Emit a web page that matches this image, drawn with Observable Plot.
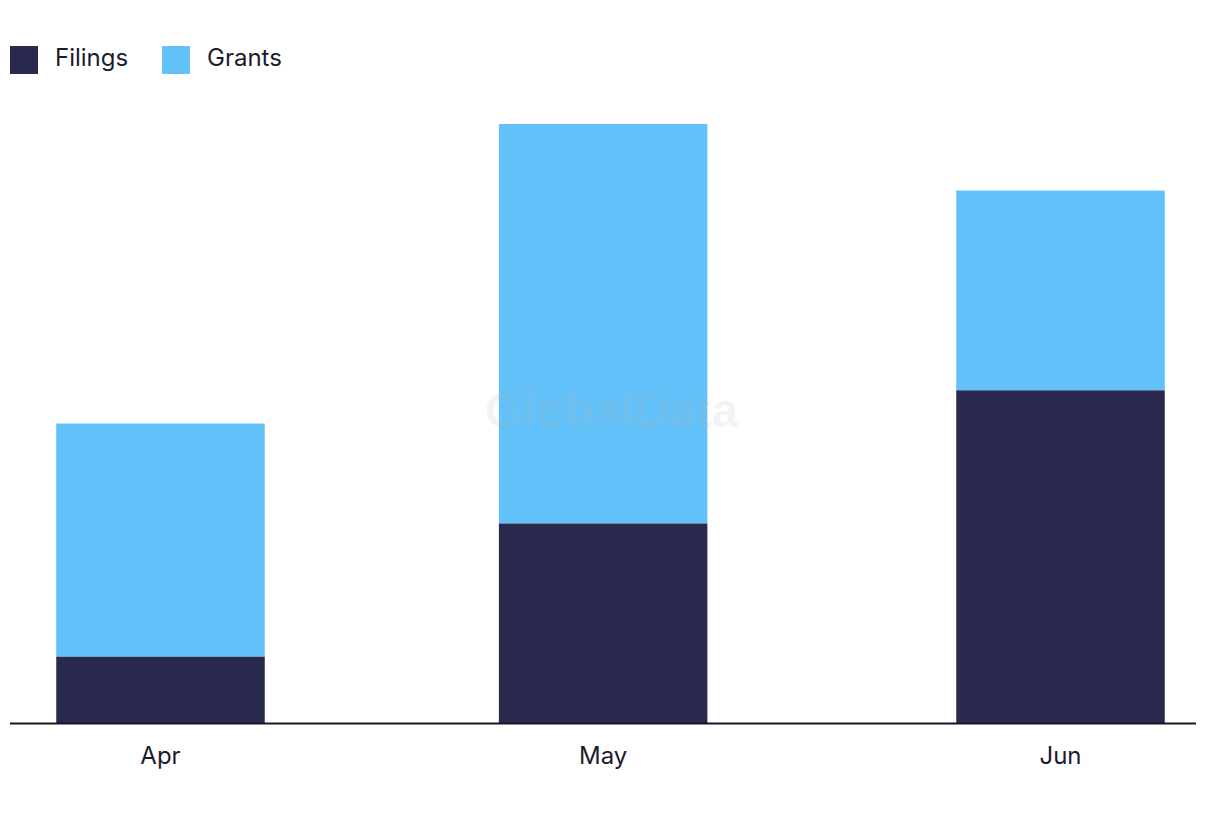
<!DOCTYPE html>
<html>
<head>
<meta charset="utf-8">
<script src="https://cdn.jsdelivr.net/npm/d3@7"></script>
<script src="https://cdn.jsdelivr.net/npm/@observablehq/plot@0.6"></script>
<style>
  html, body { margin: 0; padding: 0; background: #ffffff; }
  body { width: 1220px; height: 822px; overflow: hidden; font-family: Inter, "Noto Sans", sans-serif; }
  #legend { position: relative; height: 100px; width: 1220px; }
  .item { position: absolute; top: 46px; height: 28px; display: flex; align-items: center; }
  .sw { width: 28px; height: 28px; display: inline-block; }
  .lab { margin-left: 17px; font-size: 24px; color: #1b1b2f; line-height: 28px; position: relative; top: -2px; }
  #chart svg { display: block; }
</style>
</head>
<body>
<div id="legend"></div>
<div id="chart"></div>
<script>
const months = ["2024-04-01", "2024-05-01", "2024-06-01"];
const monthLabels = ["Apr", "May", "Jun"];
const series = ["Filings", "Grants"];
const filings = [2, 6, 10];
const grants = [7, 12, 6];
const colors = ["#28294d", "#62c1f8"];

const dates = months.map(s => new Date(s + "T00:00:00Z"));
const data = [];
dates.forEach((d, i) => {
  data.push({date: d, type: "Filings", value: filings[i]});
  data.push({date: d, type: "Grants", value: grants[i]});
});

// legend
const legend = document.getElementById("legend");
const legendX = [10, 162];
series.forEach((s, i) => {
  const it = document.createElement("div");
  it.className = "item";
  it.style.left = legendX[i] + "px";
  it.innerHTML = `<span class="sw" style="background:${colors[i]}"></span><span class="lab">${s}</span>`;
  legend.appendChild(it);
});

const DAY = 864e5;
const half = 7.1 * DAY;
const barInterval = {
  floor: d => new Date(+d - half),
  offset: (d, n = 1) => new Date(+d + 2 * half * n)
};

const chart = Plot.plot({
  width: 1220,
  height: 722,
  marginTop: 24,
  marginBottom: 99,
  marginLeft: 10,
  marginRight: 24,
  style: {fontFamily: "Inter, 'Noto Sans', sans-serif", fontSize: "24px", color: "#1b1b2f", background: "#ffffff"},
  x: {type: "utc", domain: [dates[0], dates[2]], range: [160, 1060]},
  y: {domain: [0, 18], axis: null},
  color: {domain: series, range: colors},
  marks: [
    Plot.rectY(data, {x: "date", interval: barInterval, y: "value", fill: "type"}),
    Plot.text(["GlobalData"], {frameAnchor: "middle", dx: 8, dy: -12, fontSize: 48, fontWeight: "bold",
      fontFamily: "'Liberation Sans', Arial, sans-serif", fill: "#b8b8b8", fillOpacity: 0.16}),
    Plot.ruleY([0], {stroke: "#161626", strokeWidth: 2}),
    Plot.axisX({ticks: dates, tickFormat: (d, i) => monthLabels[dates.findIndex(x => +x === +d)], tickSize: 0, tickPadding: 23, fontSize: 24, fill: "#1b1b2f"})
  ]
});
document.getElementById("chart").appendChild(chart);
</script>
</body>
</html>
